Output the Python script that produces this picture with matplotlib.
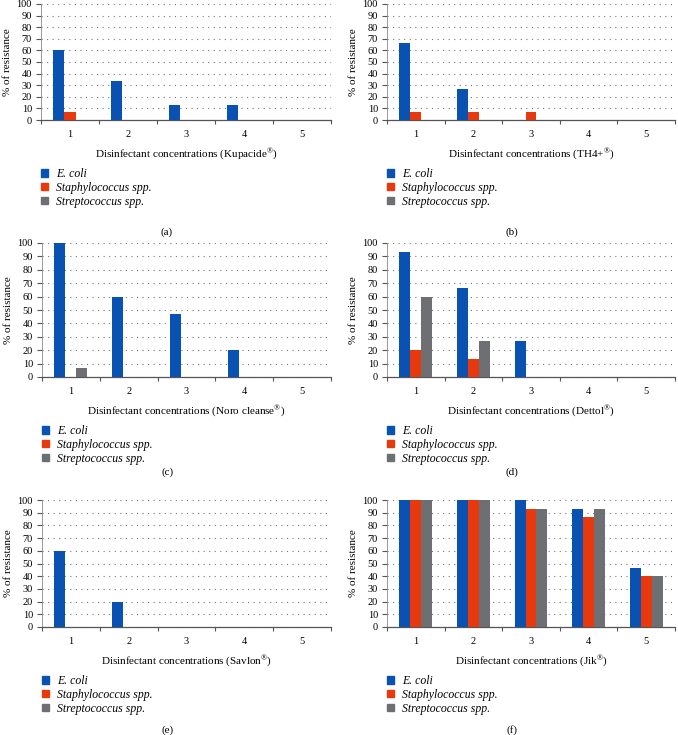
import matplotlib
matplotlib.use("Agg")
import matplotlib.pyplot as plt
import numpy as np
from matplotlib.patches import Patch

plt.rcParams['font.family'] = ['Liberation Serif', 'DejaVu Serif']
plt.rcParams['mathtext.fontset'] = 'custom'
plt.rcParams['mathtext.rm'] = 'Liberation Serif'

concentrations = ["1", "2", "3", "4", "5"]
species = ["E. coli", "Staphylococcus spp.", "Streptococcus spp."]
colors = ["#0a52b2", "#e8380e", "#6e6f72"]

kupacide = {"E. coli": [60, 33.3, 13.3, 13.3, 0],
            "Staphylococcus spp.": [6.7, 0, 0, 0, 0],
            "Streptococcus spp.": [0, 0, 0, 0, 0]}
th4 = {"E. coli": [66.7, 26.7, 0, 0, 0],
       "Staphylococcus spp.": [6.7, 6.7, 6.7, 0, 0],
       "Streptococcus spp.": [0, 0, 0, 0, 0]}
noro = {"E. coli": [100, 60, 46.7, 20, 0],
        "Staphylococcus spp.": [0, 0, 0, 0, 0],
        "Streptococcus spp.": [6.7, 0, 0, 0, 0]}
dettol = {"E. coli": [93.3, 66.7, 26.7, 0, 0],
          "Staphylococcus spp.": [20, 13.3, 0, 0, 0],
          "Streptococcus spp.": [60, 26.7, 0, 0, 0]}
savlon = {"E. coli": [60, 20, 0, 0, 0],
          "Staphylococcus spp.": [0, 0, 0, 0, 0],
          "Streptococcus spp.": [0, 0, 0, 0, 0]}
jik = {"E. coli": [100, 100, 100, 93.3, 46.7],
       "Staphylococcus spp.": [100, 100, 93.3, 86.7, 40],
       "Streptococcus spp.": [100, 100, 93.3, 93.3, 40]}

panels = [
    (kupacide, "Kupacide", "(a)", (41, 331, 4, 120), 232),
    (th4, "TH4+", "(b)", (387, 675, 4, 120), 232),
    (noro, "Noro cleanse", "(c)", (42, 331, 243, 377), 472),
    (dettol, "Dettol", "(d)", (387, 675, 243, 377), 472),
    (savlon, "Savlon", "(e)", (42, 331, 500, 627), 730),
    (jik, "Jik", "(f)", (387, 675, 500, 627), 730),
]

W, H = 678, 735
fig = plt.figure(figsize=(W / 100, H / 100), dpi=100)

bw = 0.19
for data, name, tag, (l, r, t, b), tagy in panels:
    ax = fig.add_axes([l / W, 1 - b / H, (r - l) / W, (b - t) / H])
    x = np.arange(1, len(concentrations) + 1)
    for i, sp in enumerate(species):
        ax.bar(x + (i - 1) * bw, data[sp], width=bw, color=colors[i], label=sp, zorder=3)
    ax.set_xlim(0.5, 5.5)
    ax.set_ylim(0, 100)
    ax.set_yticks(np.arange(0, 101, 10))
    ax.set_xticks(x)
    ax.set_xticklabels(concentrations)
    ax.set_xticks(np.arange(0.5, 5.6, 1), minor=True)
    ax.tick_params(axis='x', which='major', length=0, labelsize=7.5, pad=7)
    ax.tick_params(axis='x', which='minor', length=3, width=0.8, color='#555555', direction='out')
    ax.tick_params(axis='y', length=3.5, width=0.8, color='#555555', labelsize=7.5, pad=3)
    ax.yaxis.grid(True, linestyle=(0, (1, 4)), color='#777777', linewidth=0.8, zorder=0)
    for s in ['top', 'right']:
        ax.spines[s].set_visible(False)
    ax.spines['left'].set_color('#888888')
    ax.spines['left'].set_linewidth(0.6)
    ax.spines['bottom'].set_color('#555555')
    ax.spines['bottom'].set_linewidth(0.9)
    ax.set_ylabel("% of resistance", fontsize=8, labelpad=3)
    ax.set_xlabel("Disinfectant concentrations (" + name + r"$^{\circledR}$)", fontsize=8, labelpad=6)
    handles = [Patch(color=colors[i]) for i in range(3)]
    ax.legend(handles, species, loc='upper left',
              bbox_to_anchor=(l / W, 1 - (b + 48) / H), bbox_transform=fig.transFigure,
              frameon=False, prop={'style': 'italic', 'size': 8.5},
              handlelength=0.6, handleheight=0.6, handletextpad=0.7,
              labelspacing=0.15, borderpad=0, borderaxespad=0)
    fig.text(((l + r) / 2 - 19) / W, 1 - tagy / H, tag, ha='center', va='center', fontsize=8)

fig.savefig("out.png", dpi=100)
